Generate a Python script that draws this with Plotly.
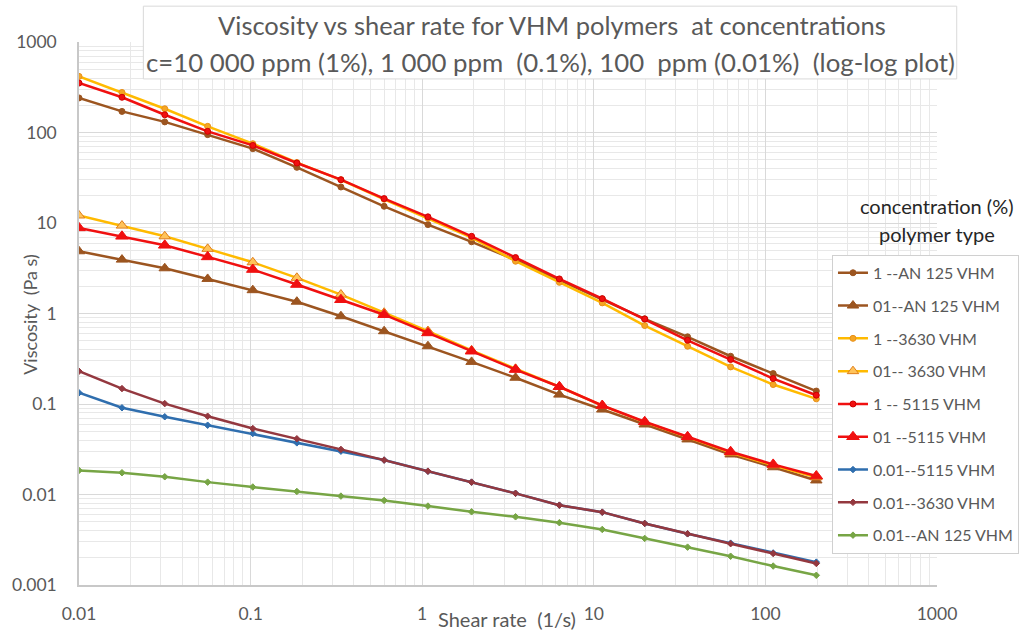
import plotly.graph_objects as go

# ---- data ----
shear_rate = [0.01, 0.0178, 0.0316, 0.0562, 0.103, 0.186, 0.336, 0.60, 1.08,
              1.94, 3.5, 6.3, 11.2, 19.8, 35.2, 62.7, 111, 198]

an125_1 = [241, 171, 131, 94.7, 66.3, 41.2, 25.0, 15.3, 9.6, 6.2, 3.9, 2.35,
           1.45, 0.873, 0.552, 0.337, 0.217, 0.139]
an125_01 = [4.87, 3.94, 3.16, 2.41, 1.81, 1.35, 0.933, 0.637, 0.435, 0.292,
            0.195, 0.127, 0.0869, 0.0594, 0.0406, 0.0277, 0.0200, 0.0143]
v3630_1 = [417, 277, 183, 117, 75.2, 46.5, 30.0, 18.3, 11.3, 6.9, 3.78, 2.21,
           1.31, 0.736, 0.435, 0.257, 0.164, 0.114]
v3630_01 = [12.1, 9.36, 7.13, 5.18, 3.68, 2.48, 1.62, 1.02, 0.64, 0.39, 0.245,
            0.155, 0.096, 0.063, 0.043, 0.029, 0.021, 0.0155]
v5115_1 = [352, 245, 157, 103, 72, 46, 30.1, 18.6, 11.7, 7.13, 4.15, 2.41,
           1.46, 0.87, 0.506, 0.31, 0.191, 0.125]
v5115_01 = [8.83, 7.13, 5.67, 4.22, 3.06, 2.09, 1.42, 0.97, 0.61, 0.383, 0.240,
            0.155, 0.0962, 0.0636, 0.0434, 0.0297, 0.0215, 0.0160]
v5115_001 = [0.133, 0.0908, 0.0723, 0.0583, 0.0472, 0.0372, 0.0301, 0.0240,
             0.0181, 0.0137, 0.0103, 0.00762, 0.00638, 0.00479, 0.00368,
             0.00290, 0.00226, 0.00179]
v3630_001 = [0.230, 0.148, 0.101, 0.0733, 0.0536, 0.0413, 0.0315, 0.0240,
             0.0181, 0.0137, 0.0103, 0.00762, 0.00638, 0.00479, 0.00368,
             0.00286, 0.00223, 0.00173]
an125_001 = [0.01845, 0.0174, 0.0157, 0.0137, 0.0121, 0.0108, 0.0096, 0.0086,
             0.00745, 0.00644, 0.00567, 0.00488, 0.00411, 0.00327, 0.00262,
             0.00208, 0.00162, 0.00128]

series_names = ["1 --AN 125 VHM", "01--AN 125 VHM", "1 --3630 VHM",
                "01-- 3630 VHM", "1 -- 5115 VHM", "01 --5115 VHM",
                "0.01--5115 VHM", "0.01--3630 VHM", "0.01--AN 125 VHM"]
series_values = [an125_1, an125_01, v3630_1, v3630_01, v5115_1, v5115_01,
                 v5115_001, v3630_001, an125_001]

x_tickvals = [0.01, 0.1, 1, 10, 100, 1000]
x_ticktext = ["0.01", "0.1", "1", "10", "100", "1000"]
y_tickvals = [0.001, 0.01, 0.1, 1, 10, 100, 1000]
y_ticktext = ["0.001", "0.01", "0.1", "1", "10", "100", "1000"]

# ---- styles ----
BROWN = "#9C5520"
ORANGE = "#FFBA00"
RED = "#F01010"
BLUE = "#2F6EAE"
DKRED = "#94383F"
GREEN = "#77A545"
styles = [
    dict(color=BROWN, symbol="circle", size=6, mcolor=BROWN, lcol=BROWN),
    dict(color=BROWN, symbol="triangle-up", size=10, mcolor=BROWN, lcol=BROWN),
    dict(color=ORANGE, symbol="circle", size=6, mcolor="#F5A623", lcol="#E8901A"),
    dict(color=ORANGE, symbol="triangle-up", size=10, mcolor="#FFC35A", lcol="#E07E1A"),
    dict(color=RED, symbol="circle", size=6, mcolor=RED, lcol="#D00000"),
    dict(color=RED, symbol="triangle-up", size=11, mcolor=RED, lcol=RED),
    dict(color=BLUE, symbol="diamond", size=5, mcolor=BLUE, lcol=BLUE),
    dict(color=DKRED, symbol="diamond", size=5, mcolor=DKRED, lcol=DKRED),
    dict(color=GREEN, symbol="diamond", size=5, mcolor=GREEN, lcol=GREEN),
]

FONT = "Lato, 'Open Sans', sans-serif"
TXT = "#595959"

fig = go.Figure()
for i, (name, vals, st) in enumerate(zip(series_names, series_values, styles)):
    fig.add_trace(go.Scatter(
        x=shear_rate, y=vals, name=name, mode="lines+markers",
        line=dict(color=st["color"], width=2.5),
        marker=dict(symbol=st["symbol"], size=st["size"], color=st["mcolor"],
                    line=dict(color=st["lcol"], width=1)),
        legendgroup=f"g{i}",
    ))

fig.update_layout(
    width=1031, height=636,
    margin=dict(l=71, r=94, t=42, b=50),
    paper_bgcolor="white", plot_bgcolor="white",
    font=dict(family=FONT, color=TXT, size=16),
    showlegend=True,
    legend=dict(
        x=0.8776, y=0.608, xanchor="left", yanchor="top",
        bordercolor="#d0d0d0", borderwidth=1, bgcolor="white",
        font=dict(family=FONT, size=16, color=TXT),
        tracegroupgap=9, itemwidth=30,
    ),
)

fig.update_xaxes(
    type="log", range=[-2, 3],
    tickvals=x_tickvals, ticktext=x_ticktext,
    showgrid=True, gridcolor="#d9d9d9", gridwidth=1,
    minor=dict(dtick="D1", showgrid=True, gridcolor="#e8e8e8", gridwidth=1),
    showline=True, linecolor="#c8c8c8", linewidth=1.5,
    ticks="", ticklabelstandoff=12,
    tickfont=dict(family=FONT, size=17.5, color=TXT),
    zeroline=False,
)
fig.update_yaxes(
    type="log", range=[-3, 3],
    tickvals=y_tickvals, ticktext=y_ticktext,
    showgrid=True, gridcolor="#d9d9d9", gridwidth=1,
    minor=dict(dtick="D1", showgrid=True, gridcolor="#e8e8e8", gridwidth=1),
    showline=True, linecolor="#c8c8c8", linewidth=1.5,
    ticks="", ticklabelstandoff=17,
    tickfont=dict(family=FONT, size=17.5, color=TXT),
    zeroline=False,
)

# title box
fig.add_shape(type="rect", xref="paper", yref="paper",
              x0=0.075, x1=1.023, y0=0.932, y1=1.066,
              line=dict(color="#d9d9d9", width=1), fillcolor="white",
              layer="above")
NB = "\u00a0"
fig.add_annotation(
    text=f"Viscosity vs shear rate for VHM polymers {NB}at concentrations",
    xref="paper", yref="paper", x=0.551, y=1.032, xanchor="center",
    yanchor="middle", showarrow=False,
    font=dict(family=FONT, size=25.5, color=TXT))
fig.add_annotation(
    text=f"c=10 000 ppm (1%), 1 000 ppm {NB}(0.1%), 100 {NB}ppm (0.01%) {NB}(log-log plot)",
    xref="paper", yref="paper", x=0.549, y=0.964, xanchor="center",
    yanchor="middle", showarrow=False,
    font=dict(family=FONT, size=25.8, color=TXT))

# axis titles
fig.add_annotation(
    text=f"Shear rate {NB}(1/s)", xref="paper", yref="paper",
    x=0.499, y=-0.063, xanchor="center", yanchor="middle", showarrow=False,
    font=dict(family=FONT, size=20, color=TXT))
fig.add_annotation(
    text=f"Viscosity {NB}(Pa s)", xref="paper", yref="paper",
    x=-0.058, y=0.498, xanchor="center", yanchor="middle", showarrow=False,
    textangle=-90, font=dict(family=FONT, size=18, color=TXT))

# legend heading
fig.add_annotation(
    text="concentration (%)", xref="paper", yref="paper",
    x=1.0, y=0.698, xanchor="center", yanchor="middle", showarrow=False,
    font=dict(family=FONT, size=20, color="#262626"))
fig.add_annotation(
    text="polymer type", xref="paper", yref="paper",
    x=1.0, y=0.646, xanchor="center", yanchor="middle", showarrow=False,
    font=dict(family=FONT, size=20, color="#262626"))

fig.write_html("out.html")
